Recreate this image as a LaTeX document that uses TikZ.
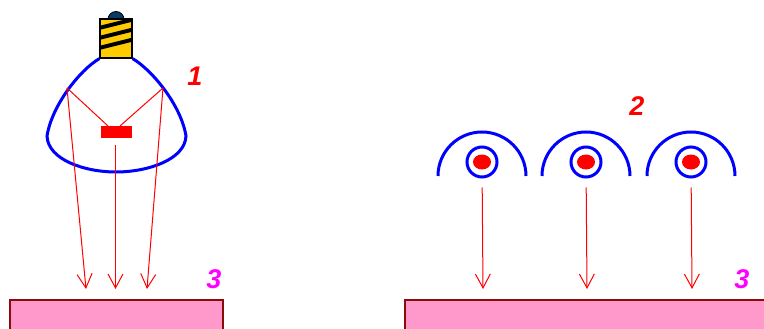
\documentclass[tikz,border=0pt]{standalone}
\usepackage{fontspec}
\setmainfont{Liberation Sans}
\usetikzlibrary{arrows.meta}

\definecolor{capyellow}{HTML}{FFCC00}
\definecolor{domeblue}{HTML}{0A3A66}
\definecolor{screenpink}{HTML}{FF99CC}
\definecolor{screenedge}{HTML}{8B0A0A}
\definecolor{numpink}{HTML}{FF00FF}

\begin{document}
\begin{tikzpicture}[x=1pt, y=-1pt,
      >={Straight Barb[length=14pt,width=15pt]},
      every node/.append style={inner sep=0pt}]
    \tikzstyle{mirror} = [draw=blue, line width=3pt]
    \tikzstyle{ray} = [draw=red, line width=1pt]
    \tikzstyle{screen} = [draw=screenedge, fill=screenpink, line width=1.5pt]
    \tikzstyle{num} = [font=\bfseries\itshape\fontsize{27}{27}\selectfont]
    \useasboundingbox (0,0) rectangle (764,329);

    % bulb with its reflector
    \filldraw[fill=domeblue, draw=black, line width=0.8pt] (116,19.5) circle[radius=8pt];
    \node (cap) [draw, fill=capyellow, line width=1.2pt,
      minimum width=32pt, minimum height=39pt] at (116,38.5) {};
    \begin{scope}
      \clip (cap.south west) rectangle (cap.north east);
      \foreach \y in {28,38,48}
        \draw[line width=4pt] (99,\y) -- (133,\y-8.5);
    \end{scope}
    \draw[line width=1.2pt] (cap.south west) rectangle (cap.north east);
    \draw[mirror] (cap.south west) .. controls (80,70) and (52,105) .. (47,136)
      .. controls (48,160) and (85,172) .. (116,172)
      .. controls (147,172) and (185,160) .. (186,136)
      .. controls (181,105) and (152,70) .. (cap.south east);
    \node (filament) [fill=red, minimum width=31pt, minimum height=12pt] at (116.5,132) {};
    \coordinate (reflL) at (67,88);
    \coordinate (reflR) at (163,88);
    \coordinate (hitL) at (108,126);
    \coordinate (hitR) at (120,126);
    \coordinate (below) at (115.5,145);
    \coordinate (tipL) at (86,289);
    \coordinate (tipC) at (115.5,289);
    \coordinate (tipR) at (147,289);
    \draw[ray] (reflL) -- (hitL);
    \draw[ray] (reflR) -- (hitR);
    \draw[ray, ->] (reflL) -- (tipL);
    \draw[ray, ->] (below) -- (tipC);
    \draw[ray, ->] (reflR) -- (tipR);
    \node (one) [num, red] at (195,76) {1};

    % row of small lamps
    \foreach \x [count=\i] in {482,586,691} {
      \draw[mirror] (\x-44,176) arc[start angle=180, end angle=0, radius=44pt];
      \node (ring\i) [circle, draw=blue, line width=3pt, minimum size=30pt] at (\x,162) {};
      \fill[red] (\x,162) ellipse[x radius=9pt, y radius=7.5pt];
      \coordinate (tip\i) at (\x+1,289);
      \draw[ray, ->, shorten <=9pt] (ring\i) -- (tip\i);
    }
    \node (two) [num, red] at (637,106) {2};

    % screens
    \draw[screen] (10,300) rectangle (223,340);
    \draw[screen] (405,300) rectangle (775,340);
    \node (threeL) [num, numpink] at (214,279) {3};
    \node (threeR) [num, numpink] at (742,279) {3};
\end{tikzpicture}
\end{document}
